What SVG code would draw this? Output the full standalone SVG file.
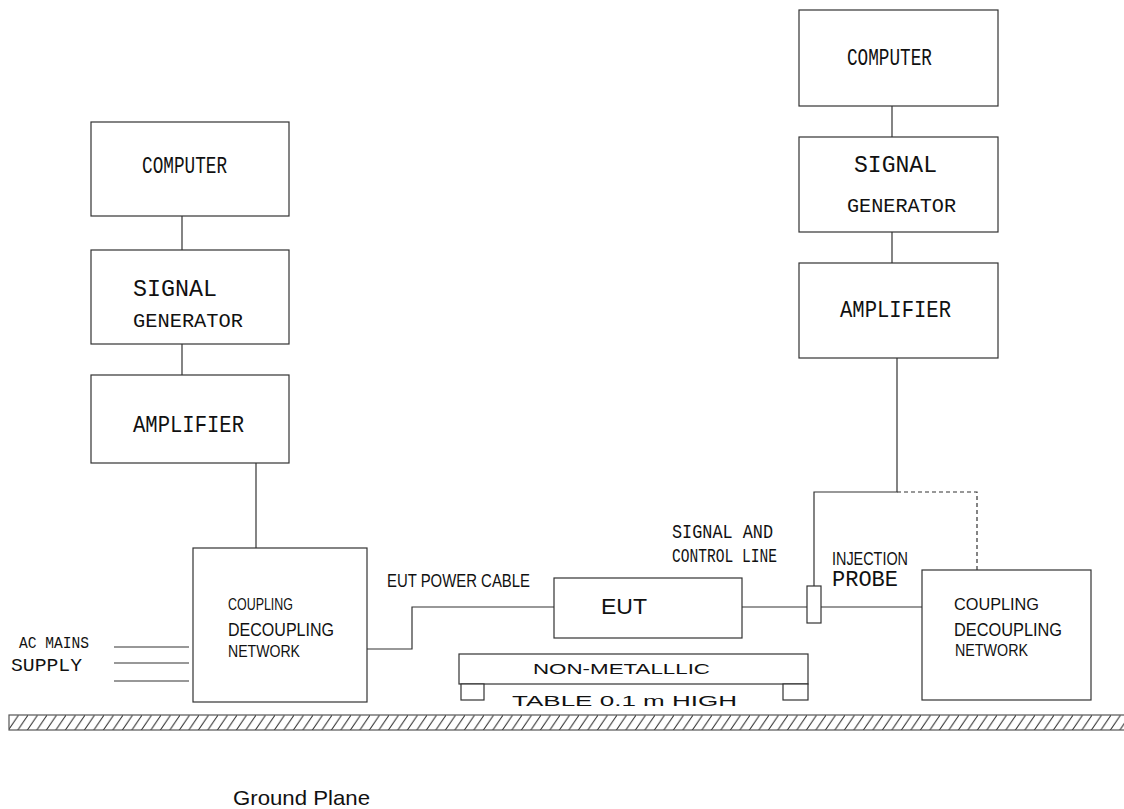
<svg xmlns="http://www.w3.org/2000/svg" width="1124" height="809" viewBox="0 0 1124 809">
<defs>
<style>
.box{fill:#fff;stroke:#333;stroke-width:1.2}
.ln{fill:none;stroke:#333;stroke-width:1.2}
.dash{fill:none;stroke:#333;stroke-width:1.2;stroke-dasharray:4 3}
.mono{font-family:"Liberation Mono","DejaVu Sans Mono",monospace;fill:#111}
.sans{font-family:"Liberation Sans",Arial,sans-serif;fill:#111}
</style>
<pattern id="hatch" patternUnits="userSpaceOnUse" x="9" y="715" width="9.5" height="15">
<line x1="-1" y1="15.5" x2="10" y2="-0.5" stroke="#222" stroke-width="1"/>
<line x1="8.5" y1="15.5" x2="19.5" y2="-0.5" stroke="#222" stroke-width="1"/>
</pattern>
</defs>
<rect width="1124" height="809" fill="#fff"/>

<g id="connectors">
<line class="ln" x1="182" y1="216" x2="182" y2="250"/>
<line class="ln" x1="182" y1="344" x2="182" y2="375"/>
<line class="ln" x1="256" y1="463" x2="256" y2="548"/>
<line class="ln" x1="892" y1="106" x2="892" y2="137"/>
<line class="ln" x1="892" y1="232" x2="892" y2="263"/>
<polyline class="ln" points="897,358 897,492 814,492 814,586"/>
<polyline class="dash" points="897,492 977,492 977,570"/>
<polyline class="ln" points="367,649 412,649 412,607 554,607"/>
<line class="ln" x1="742" y1="607" x2="922" y2="607"/>
<line class="ln" x1="114" y1="647" x2="189" y2="647"/>
<line class="ln" x1="114" y1="663" x2="189" y2="663"/>
<line class="ln" x1="114" y1="681" x2="189" y2="681"/>
</g>

<g id="computer-left">
<rect class="box" x="91" y="122" width="198" height="94"/>
<text class="mono" x="142" y="173" font-size="24" textLength="85" lengthAdjust="spacingAndGlyphs">COMPUTER</text>
</g>
<g id="siggen-left">
<rect class="box" x="91" y="250" width="198" height="94"/>
<text class="mono" x="133" y="296" font-size="24" textLength="84" lengthAdjust="spacingAndGlyphs">SIGNAL</text>
<text class="mono" x="133" y="327" font-size="20" textLength="110" lengthAdjust="spacingAndGlyphs">GENERATOR</text>
</g>
<g id="amplifier-left">
<rect class="box" x="91" y="375" width="198" height="88"/>
<text class="mono" x="133" y="432" font-size="23" textLength="111" lengthAdjust="spacingAndGlyphs">AMPLIFIER</text>
</g>

<g id="computer-right">
<rect class="box" x="799" y="10" width="199" height="96"/>
<text class="mono" x="847" y="65" font-size="23" textLength="85" lengthAdjust="spacingAndGlyphs">COMPUTER</text>
</g>
<g id="siggen-right">
<rect class="box" x="799" y="137" width="199" height="95"/>
<text class="mono" x="854" y="172" font-size="23" textLength="83" lengthAdjust="spacingAndGlyphs">SIGNAL</text>
<text class="mono" x="847" y="212" font-size="20" textLength="109" lengthAdjust="spacingAndGlyphs">GENERATOR</text>
</g>
<g id="amplifier-right">
<rect class="box" x="799" y="263" width="199" height="95"/>
<text class="mono" x="840" y="317" font-size="23" textLength="111" lengthAdjust="spacingAndGlyphs">AMPLIFIER</text>
</g>

<g id="cdn-left">
<rect class="box" x="193" y="548" width="174" height="154"/>
<text class="sans" x="228" y="610" font-size="16" textLength="65" lengthAdjust="spacingAndGlyphs">COUPLING</text>
<text class="sans" x="228" y="636" font-size="19" textLength="106" lengthAdjust="spacingAndGlyphs">DECOUPLING</text>
<text class="sans" x="228" y="657" font-size="16.5" textLength="72" lengthAdjust="spacingAndGlyphs">NETWORK</text>
</g>

<g id="ac-mains">
<text class="mono" x="19" y="648" font-size="16" textLength="70" lengthAdjust="spacingAndGlyphs">AC MAINS</text>
<text class="mono" x="11" y="671" font-size="18" textLength="71" lengthAdjust="spacingAndGlyphs">SUPPLY</text>
</g>

<g id="eut">
<rect class="box" x="554" y="578" width="188" height="60"/>
<text class="sans" x="601" y="614" font-size="22" textLength="46" lengthAdjust="spacingAndGlyphs">EUT</text>
</g>
<text class="sans" x="387" y="587" font-size="19" textLength="143" lengthAdjust="spacingAndGlyphs">EUT POWER CABLE</text>
<text class="mono" x="672" y="538" font-size="20" textLength="101" lengthAdjust="spacingAndGlyphs">SIGNAL AND</text>
<text class="mono" x="672" y="562" font-size="20" textLength="105" lengthAdjust="spacingAndGlyphs">CONTROL LINE</text>

<g id="table">
<rect class="box" x="459" y="654" width="349" height="30"/>
<rect class="box" x="461" y="684" width="23" height="16"/>
<rect class="box" x="783" y="684" width="25" height="16"/>
<text class="sans" x="533" y="674" font-size="15" textLength="177" lengthAdjust="spacingAndGlyphs">NON-METALLLIC</text>
<text class="sans" x="512" y="706" font-size="15" textLength="225" lengthAdjust="spacingAndGlyphs">TABLE 0.1 m HIGH</text>
</g>

<g id="injection-probe">
<rect class="box" x="807" y="586" width="14" height="37"/>
<text class="sans" x="832" y="565" font-size="18" textLength="76" lengthAdjust="spacingAndGlyphs">INJECTION</text>
<text class="mono" x="832" y="586" font-size="22" textLength="66" lengthAdjust="spacingAndGlyphs">PROBE</text>
</g>

<g id="cdn-right">
<rect class="box" x="922" y="570" width="169" height="130"/>
<text class="sans" x="954" y="610" font-size="17" textLength="85" lengthAdjust="spacingAndGlyphs">COUPLING</text>
<text class="sans" x="954" y="636" font-size="18.5" textLength="108" lengthAdjust="spacingAndGlyphs">DECOUPLING</text>
<text class="sans" x="955" y="656" font-size="17" textLength="73" lengthAdjust="spacingAndGlyphs">NETWORK</text>
</g>

<g id="ground-plane">
<rect x="9" y="715" width="1120" height="15" fill="url(#hatch)" stroke="#555" stroke-width="1.2"/>
<text class="sans" x="233" y="805" font-size="21" textLength="137" lengthAdjust="spacingAndGlyphs">Ground Plane</text>
</g>
</svg>
